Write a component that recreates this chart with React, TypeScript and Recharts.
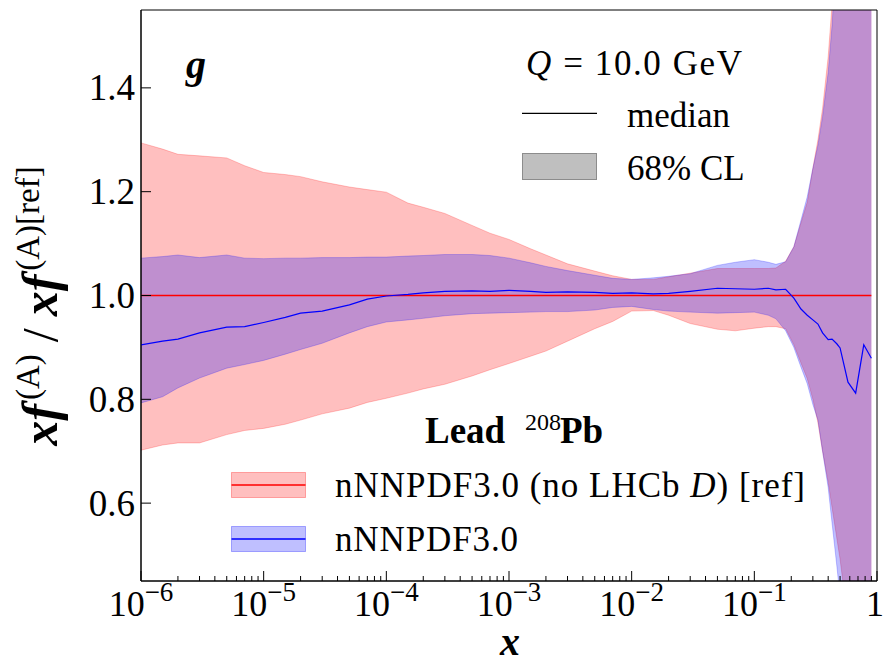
import React from 'react';
import { ComposedChart, Area, Line, XAxis, YAxis, ReferenceArea } from 'recharts';

// x grid (momentum fraction)
const xValues = [
  1e-6, 1.5e-6, 2e-6, 3e-6, 5e-6, 7e-6,
  1e-5, 1.5e-5, 2e-5, 3e-5, 5e-5, 7e-5,
  1e-4, 1.5e-4, 2e-4, 3e-4, 5e-4, 7e-4,
  1e-3, 1.5e-3, 2e-3, 3e-3, 5e-3, 7e-3,
  1e-2, 1.5e-2, 2e-2, 3e-2, 5e-2, 7e-2,
  0.1, 0.13, 0.15, 0.18, 0.21, 0.24, 0.27, 0.3, 0.33, 0.36, 0.4, 0.43, 0.47, 0.5, 0.58, 0.67, 0.78, 0.9,
];

// nNNPDF3.0 (no LHCb D) [ref] — 68% CL band
const redHigh = [
  1.294, 1.282, 1.272, 1.269, 1.265, 1.25,
  1.237, 1.233, 1.229, 1.219, 1.209, 1.204,
  1.199, 1.178, 1.17, 1.158, 1.135, 1.12,
  1.108, 1.09, 1.078, 1.061, 1.047, 1.038,
  1.031, 1.031, 1.036, 1.043, 1.052, 1.052,
  1.052, 1.052, 1.053, 1.066, 1.094, 1.14, 1.18, 1.245, 1.3, 1.36, 1.46, 1.56, 1.72, 1.85, 2.2, 2.6, 3.0, 3.4,
];
const redLow = [
  0.702, 0.712, 0.716, 0.716, 0.732, 0.74,
  0.744, 0.752, 0.76, 0.772, 0.783, 0.794,
  0.802, 0.812, 0.82, 0.829, 0.845, 0.857,
  0.869, 0.883, 0.893, 0.912, 0.936, 0.95,
  0.97, 0.971, 0.962, 0.946, 0.935, 0.932,
  0.937, 0.94, 0.94, 0.936, 0.905, 0.87, 0.84, 0.8, 0.755, 0.7, 0.64, 0.592, 0.533, 0.492, 0.37, 0.27, 0.18, 0.1,
];
const redMedian = [
  1, 1, 1, 1, 1, 1,
  1, 1, 1, 1, 1, 1,
  1, 1, 1, 1, 1, 1,
  1, 1, 1, 1, 1, 1,
  1, 1, 1, 1, 1, 1,
  1, 1, 1, 1, 1, 1, 1, 1, 1, 1, 1, 1, 1, 1, 1, 1, 1, 1,
];

// nNNPDF3.0 — 68% CL band and median
const blueHigh = [
  1.072, 1.075, 1.078, 1.073, 1.078, 1.072,
  1.071, 1.072, 1.072, 1.073, 1.073, 1.074,
  1.074, 1.076, 1.077, 1.079, 1.079, 1.077,
  1.072, 1.063, 1.056, 1.048, 1.039, 1.033,
  1.031, 1.034, 1.037, 1.042, 1.058, 1.064,
  1.069, 1.064, 1.06, 1.065, 1.094, 1.145, 1.19, 1.245, 1.29, 1.345, 1.43, 1.52, 1.68, 1.8, 2.15, 2.5, 2.9, 3.3,
];
const blueLow = [
  0.793, 0.805, 0.822, 0.841, 0.86, 0.867,
  0.875, 0.887, 0.896, 0.908, 0.928, 0.94,
  0.949, 0.953, 0.956, 0.961, 0.965, 0.966,
  0.967, 0.968, 0.969, 0.969, 0.972, 0.977,
  0.979, 0.973, 0.97, 0.968, 0.966, 0.967,
  0.968, 0.962, 0.955, 0.932, 0.9, 0.862, 0.83, 0.79, 0.76, 0.7, 0.63, 0.562, 0.48, 0.42, 0.3, 0.2, 0.1, 0.03,
];
const blueMedian = [
  0.905, 0.912, 0.916, 0.928, 0.939, 0.94,
  0.948, 0.958, 0.966, 0.97, 0.982, 0.993,
  0.999, 1.002, 1.005, 1.008, 1.009, 1.008,
  1.01, 1.008, 1.006, 1.007, 1.006, 1.004,
  1.005, 1.003, 1.004, 1.008, 1.014, 1.013,
  1.012, 1.014, 1.011, 1.012, 0.995, 0.974, 0.962, 0.953, 0.945, 0.928, 0.915, 0.916, 0.907, 0.899, 0.833, 0.812, 0.905, 0.879,
];

const yTicks = [0.6, 0.8, 1.0, 1.2, 1.4];
const xDecadeExponents = [-6, -5, -4, -3, -2, -1, 0];
const minorMultipliers = [2, 3, 4, 5, 6, 7, 8, 9];

const data = xValues.map((x, i) => ({
  x,
  red: [redLow[i], redHigh[i]],
  blue: [blueLow[i], blueHigh[i]],
  redMed: redMedian[i],
  blueMed: blueMedian[i],
}));

const xMajorTicks = xDecadeExponents.map((e) => Math.pow(10, e));
const xMinorTicks = xDecadeExponents
  .slice(0, -1)
  .flatMap((e) => minorMultipliers.map((k) => k * Math.pow(10, e)));
const xTicks = [...xMajorTicks, ...xMinorTicks].sort((a, b) => a - b);

const FONT = "'Liberation Serif', 'DejaVu Serif', serif";
const serif: React.CSSProperties = { fontFamily: FONT };

function XTick(props: any) {
  const { x, y, payload } = props;
  const v = payload.value;
  const lg = Math.log10(v);
  const e = Math.round(lg);
  const major = Math.abs(lg - e) < 1e-6;
  return (
    <g>
      <line x1={x} x2={x} y1={y} y2={y - (major ? 10 : 5)} stroke="#000" strokeWidth={1} />
      {major &&
        (e === 0 ? (
          <text x={x - 2} y={y + 35} textAnchor="middle" style={serif} fontSize={36} fill="#000">
            1
          </text>
        ) : (
          <text x={x} y={y + 35} textAnchor="middle" style={serif} fontSize={36} fill="#000">
            10
            <tspan dy={-15} fontSize={27}>
              {'\u2212' + Math.abs(e)}
            </tspan>
          </text>
        ))}
    </g>
  );
}

function YTick(props: any) {
  const { x, y, payload } = props;
  return (
    <g>
      <line x1={x} x2={x + 10} y1={y} y2={y} stroke="#000" strokeWidth={1} />
      <text x={x - 6} y={y + 12.5} textAnchor="end" style={serif} fontSize={37} fill="#000">
        {Number(payload.value).toFixed(1)}
      </text>
    </g>
  );
}

export default function App() {
  return (
    <div style={{ position: 'absolute', left: 0, top: 0, width: 883, height: 663, background: '#fff' }}>
      <ComposedChart
        width={883}
        height={663}
        data={data}
        margin={{ top: 10, right: 6, bottom: 52, left: 81 }}
      >
        <XAxis
          dataKey="x"
          type="number"
          scale="log"
          domain={[1e-6, 1]}
          allowDataOverflow
          ticks={xTicks}
          interval={0}
          tick={<XTick />}
          tickLine={false}
          tickSize={0}
          tickMargin={0}
          height={30}
          axisLine={{ stroke: '#000', strokeWidth: 1 }}
        />
        <YAxis
          type="number"
          domain={[0.45, 1.55]}
          allowDataOverflow
          ticks={yTicks}
          interval={0}
          tick={<YTick />}
          tickLine={false}
          tickSize={0}
          tickMargin={0}
          width={60}
          axisLine={{ stroke: '#000', strokeWidth: 1 }}
        />
        <Area
          dataKey="red"
          type="linear"
          fill="#ff0000"
          fillOpacity={0.25}
          stroke="#ff0000"
          strokeOpacity={0.22}
          strokeWidth={1}
          isAnimationActive={false}
          dot={false}
          activeDot={false}
        />
        <Area
          dataKey="blue"
          type="linear"
          fill="#0000ff"
          fillOpacity={0.25}
          stroke="#0000ff"
          strokeOpacity={0.22}
          strokeWidth={1}
          isAnimationActive={false}
          dot={false}
          activeDot={false}
        />
        <Line
          dataKey="redMed"
          type="linear"
          stroke="#ff0000"
          strokeWidth={1.5}
          dot={false}
          activeDot={false}
          isAnimationActive={false}
        />
        <Line
          dataKey="blueMed"
          type="linear"
          stroke="#0000ff"
          strokeWidth={1.2}
          dot={false}
          activeDot={false}
          isAnimationActive={false}
        />
        <ReferenceArea
          x1={1e-6}
          x2={1}
          y1={0.45}
          y2={1.55}
          fill="none"
          fillOpacity={0}
          stroke="#000"
          strokeWidth={1}
          ifOverflow="visible"
        />
      </ComposedChart>
      <svg
        width={883}
        height={663}
        style={{ position: 'absolute', left: 0, top: 0, pointerEvents: 'none', fontFamily: FONT }}
      >
        <text x={186} y={78} style={serif} fontSize={40} fontWeight="bold" fontStyle="italic" fill="#000">
          g
        </text>
        <text x={526} y={75} style={serif} fontSize={35} textLength={216} lengthAdjust="spacing" fill="#000">
          <tspan fontStyle="italic">Q</tspan> = 10.0 GeV
        </text>
        <line x1={522} x2={597} y1={113.3} y2={113.3} stroke="#000" strokeWidth={1.2} />
        <text x={627} y={127} style={serif} fontSize={35} fill="#000">
          median
        </text>
        <rect x={522.5} y={153.5} width={74} height={26} fill="#bfbfbf" stroke="#8c8c8c" strokeWidth={1} />
        <text x={627} y={180} style={serif} fontSize={35} fill="#000">
          68% CL
        </text>

        <text x={425} y={443} style={serif} fontSize={37} fontWeight="bold" fill="#000">
          Lead
        </text>
        <text x={525} y={430} style={serif} fontSize={24} fill="#000">
          208
        </text>
        <text x={560} y={443} style={serif} fontSize={37} fontWeight="bold" fill="#000">
          Pb
        </text>

        <rect x={231.5} y={472.5} width={74} height={25} fill="#ff0000" fillOpacity={0.25} stroke="#ff0000" strokeOpacity={0.3} />
        <line x1={231.5} x2={305.5} y1={485} y2={485} stroke="#ff0000" strokeWidth={1.5} />
        <text x={335} y={497} style={serif} fontSize={35} textLength={470} lengthAdjust="spacing" fill="#000">
          nNNPDF3.0 (no LHCb <tspan fontStyle="italic">D</tspan>) [ref]
        </text>
        <rect x={231.5} y={526.5} width={74} height={25} fill="#0000ff" fillOpacity={0.25} stroke="#0000ff" strokeOpacity={0.3} />
        <line x1={231.5} x2={305.5} y1={539} y2={539} stroke="#0000ff" strokeWidth={1.5} />
        <text x={335} y={551} style={serif} fontSize={35} textLength={183} lengthAdjust="spacing" fill="#000">
          nNNPDF3.0
        </text>

        <text x={510} y={655} textAnchor="middle" style={serif} fontSize={40} fontWeight="bold" fontStyle="italic" fill="#000">
          x
        </text>

        <g transform="translate(57, 306) rotate(-90)">
          <text x={0} y={0} textAnchor="middle" style={serif} fill="#000">
            <tspan fontSize={50} fontWeight="bold" fontStyle="italic">xf</tspan>
            <tspan fontSize={33} dx={4} dy={-18}>(A)</tspan>
            <tspan fontSize={50} dx={12} dy={18}>/</tspan>
            <tspan fontSize={50} dx={12} fontWeight="bold" fontStyle="italic">xf</tspan>
            <tspan fontSize={33} dx={4} dy={-18}>(A)[ref]</tspan>
          </text>
        </g>
      </svg>
    </div>
  );
}
